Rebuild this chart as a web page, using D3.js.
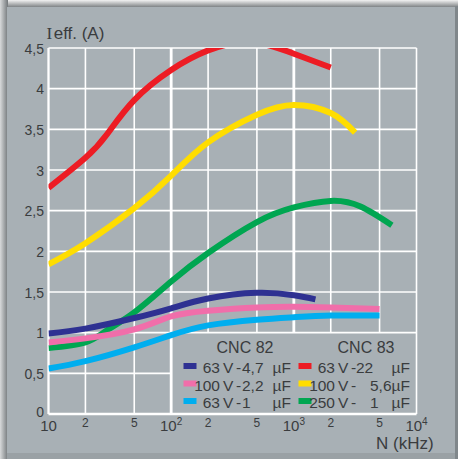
<!DOCTYPE html>
<html>
<head>
<meta charset="utf-8">
<script src="https://cdn.jsdelivr.net/npm/d3@7"></script>
<style>
body { margin:0; background:#fff; }
text { font-family:"Liberation Sans Narrow","Arial Narrow","Liberation Sans",sans-serif; fill:#3a3c3e; }
</style>
</head>
<body>
<div class="canvas"></div>
<script>
//------------------------DATA
const freqTicks = [10, 20, 50, 100, 200, 500, 1000, 2000, 5000, 10000];
const currentTicks = [0, 0.5, 1, 1.5, 2, 2.5, 3, 3.5, 4, 4.5];
const currentLabels = ['0', '0,5', '1', '1,5', '2', '2,5', '3', '3,5', '4', '4,5'];

// CNC 83 - 63 V - 22 µF
const redN = [10, 20, 30, 50, 100, 200, 450, 1000, 2000];
const redI = [2.78, 3.15, 3.44, 3.86, 4.23, 4.47, 4.57, 4.43, 4.26];
// CNC 83 - 100 V - 5,6 µF
const yellowN = [10, 20, 50, 100, 200, 500, 1000, 2000, 3160];
const yellowI = [1.84, 2.10, 2.53, 2.93, 3.34, 3.68, 3.80, 3.70, 3.46];
// CNC 83 - 250 V - 1 µF
const greenN = [10, 20, 30, 50, 100, 200, 500, 1000, 2000, 3500, 6300];
const greenI = [0.81, 0.88, 1.03, 1.25, 1.63, 1.98, 2.36, 2.54, 2.62, 2.55, 2.32];
// CNC 82 - 63 V - 4,7 µF
const navyN = [10, 20, 50, 100, 200, 500, 1000, 1500];
const navyI = [0.99, 1.05, 1.18, 1.30, 1.42, 1.49, 1.46, 1.41];
// CNC 82 - 100 V - 2,2 µF
const pinkN = [10, 20, 50, 100, 200, 500, 1000, 2000, 5000];
const pinkI = [0.88, 0.93, 1.04, 1.20, 1.27, 1.31, 1.32, 1.31, 1.29];
// CNC 82 - 63 V - 1 µF
const cyanN = [10, 20, 50, 100, 200, 500, 1000, 2000, 5000];
const cyanI = [0.56, 0.65, 0.82, 0.97, 1.09, 1.16, 1.19, 1.21, 1.21];

const legendVolts = ['63', '100', '63', '63', '100', '250'];
const legendCaps = ['4,7', '2,2', '1', '22', '5,6', '1'];
const legendGroups = ['CNC 82', 'CNC 83'];

const colors = ['#2e3192', '#f06eaa', '#00aeef', '#ed1c24', '#ffdd00', '#00a651'];
const series = [
  { n: greenN, i: greenI, c: 5 },
  { n: redN, i: redI, c: 3 },
  { n: yellowN, i: yellowI, c: 4 },
  { n: navyN, i: navyI, c: 0 },
  { n: pinkN, i: pinkI, c: 1 },
  { n: cyanN, i: cyanI, c: 2 }
];

//------------------------SVG container
const W = 458, H = 459;
const svg = d3.select('.canvas')
  .append('svg')
  .attr('width', W)
  .attr('height', H);

const defs = svg.append('defs');
const gTop = defs.append('linearGradient').attr('id', 'shTop').attr('x1', 0).attr('y1', 0).attr('x2', 0).attr('y2', 1);
gTop.append('stop').attr('offset', '0%').attr('stop-color', '#f2f2f2');
gTop.append('stop').attr('offset', '100%').attr('stop-color', '#6f7477');
const gLeft = defs.append('linearGradient').attr('id', 'shLeft').attr('x1', 0).attr('y1', 0).attr('x2', 1).attr('y2', 0);
gLeft.append('stop').attr('offset', '0%').attr('stop-color', '#d8dadb');
gLeft.append('stop').attr('offset', '100%').attr('stop-color', '#72777a');

// frame + panel
svg.append('rect').attr('width', W).attr('height', H).attr('fill', '#dcdfe0');
svg.append('rect').attr('x', 0).attr('y', 0).attr('width', W).attr('height', 8).attr('fill', 'url(#shTop)');
svg.append('rect').attr('x', 0).attr('y', 0).attr('width', 8).attr('height', H).attr('fill', 'url(#shLeft)');
svg.append('rect').attr('x', 7).attr('y', 7).attr('width', 448).attr('height', 446).attr('fill', '#a8b0b5');
svg.append('rect').attr('x', 455).attr('y', 6).attr('width', 3).attr('height', H).attr('fill', '#80878b');
svg.append('rect').attr('x', 7).attr('y', 453).attr('width', 448).attr('height', 6).attr('fill', '#9aa1a5');

//------------------------Scales
const x = d3.scaleLog().domain([10, 10000]).range([48.5, 416.5]);
const y = d3.scaleLinear().domain([0, 4.5]).range([414, 48]);

const grid = svg.append('g');

// vertical grid lines (stop at the legend box)
grid.selectAll('line.v')
  .data(freqTicks)
  .enter().append('line')
  .attr('x1', d => x(d)).attr('x2', d => x(d))
  .attr('y1', y(4.5))
  .attr('y2', d => (d > 100 && d < 10000) ? y(1) : y(0))
  .attr('stroke', '#fff')
  .attr('stroke-width', d => (d === 100 || d === 1000) ? 2.8 : (d === 10 ? 2.3 : 1.6));

// horizontal grid lines
grid.selectAll('line.h')
  .data(currentTicks)
  .enter().append('line')
  .attr('x1', x(10))
  .attr('x2', d => d === 0.5 ? x(100) : x(10000))
  .attr('y1', d => y(d)).attr('y2', d => y(d))
  .attr('stroke', '#fff')
  .attr('stroke-width', d => d === 0 ? 2.3 : 1.6);

//------------------------Curves
svg.append('clipPath').attr('id', 'plotClip')
  .append('rect')
  .attr('x', x(10)).attr('y', y(4.5))
  .attr('width', x(10000) - x(10)).attr('height', y(0) - y(4.5));

const line = d3.line()
  .x(d => x(d[0]))
  .y(d => y(d[1]))
  .curve(d3.curveNatural);

svg.append('g')
  .attr('clip-path', 'url(#plotClip)')
  .selectAll('path')
  .data(series)
  .enter().append('path')
  .attr('d', s => line(s.n.map((n, k) => [n, s.i[k]])))
  .attr('fill', 'none')
  .attr('stroke', s => colors[s.c])
  .attr('stroke-width', 6);

//------------------------Axis labels
svg.selectAll('text.ylab')
  .data(currentTicks)
  .enter().append('text')
  .attr('x', 44)
  .attr('y', d => y(d) + (d === 0 ? 3 : 5.5))
  .attr('text-anchor', 'end')
  .style('font-size', '14px')
  .text((d, i) => currentLabels[i]);

freqTicks.forEach(d => {
  const exp = Math.log10(d);
  if (Number.isInteger(exp)) {
    const t = svg.append('text')
      .attr('x', x(d))
      .attr('y', 431)
      .attr('text-anchor', 'middle')
      .style('font-size', '15px');
    t.append('tspan').text('10');
    if (exp > 1) {
      t.append('tspan').attr('dy', -6).style('font-size', '10px').text(exp);
    }
  } else {
    svg.append('text')
      .attr('x', x(d))
      .attr('y', 427)
      .attr('text-anchor', 'middle')
      .style('font-size', '12px')
      .text(String(d)[0]);
  }
});

// axis titles
const yt = svg.append('text').attr('x', 46.5).attr('y', 38.5).style('font-size', '17px');
yt.append('tspan').style('font-family', '"Liberation Serif","Times New Roman",serif').text('I');
yt.append('tspan').attr('dx', 1.5).text('eff. (A)');

svg.append('text')
  .attr('x', 376).attr('y', 448.5)
  .style('font-size', '17px')
  .text('N (kHz)');

//------------------------Legend
const legend = svg.append('g');
legend.selectAll('text.grp')
  .data(legendGroups)
  .enter().append('text')
  .attr('x', (d, i) => i === 0 ? 245 : 366)
  .attr('y', 352.5)
  .attr('text-anchor', 'middle')
  .style('font-size', '16px')
  .text(d => d);

const rowY = [373, 390.5, 408];
legendVolts.forEach((v, k) => {
  const col = k < 3 ? 0 : 1;
  const row = k % 3;
  const base = rowY[row];
  const off = col === 0 ? 0 : 115;
  const cap = legendCaps[k];
  const capX = col === 0 ? 242 : (cap === '22' ? 356 : 370);

  legend.append('rect')
    .attr('x', 183.5 + off).attr('y', base - 10)
    .attr('width', 13).attr('height', 6)
    .attr('fill', colors[k]);

  legend.append('text').attr('x', 220 + off).attr('y', base)
    .attr('text-anchor', 'end').style('font-size', '15.5px').text(v);
  legend.append('text').attr('x', 223 + off).attr('y', base)
    .style('font-size', '15.5px').text('V');
  legend.append('text').attr('x', 236 + off).attr('y', base)
    .style('font-size', '15.5px').text('-');
  legend.append('text').attr('x', capX).attr('y', base)
    .style('font-size', '15.5px').text(cap);
  legend.append('text').attr('x', col === 0 ? 272.5 : 391.5).attr('y', base)
    .style('font-size', '15.5px').text('µF');
});
</script>
</body>
</html>
